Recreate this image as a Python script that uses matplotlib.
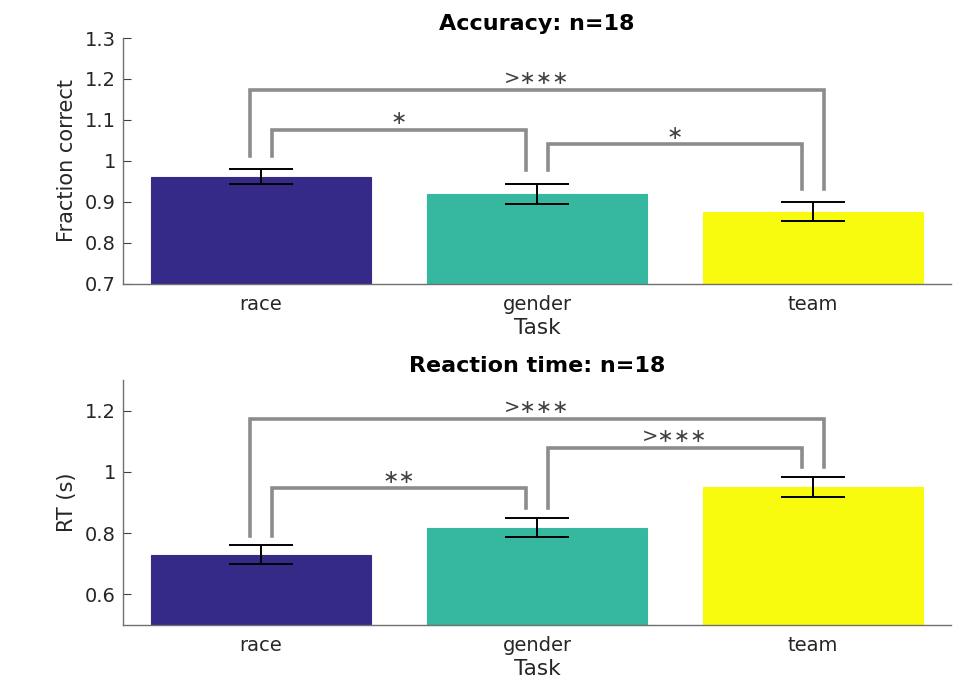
import numpy as np
import matplotlib
matplotlib.use("Agg")
import matplotlib.pyplot as plt

# task conditions and per-task means / SEM (n=18)
tasks = ["race", "gender", "team"]
colors = ["#352A87", "#35B7A0", "#F9FB0E"]

acc_mean = [0.962, 0.920, 0.876]
acc_sem = [0.018, 0.025, 0.023]

rt_mean = [0.730, 0.818, 0.950]
rt_sem = [0.030, 0.032, 0.033]

# significance brackets: (i, j) pairs, bracket height, label
acc_pairs = [(0, 2), (0, 1), (1, 2)]
acc_heights = [1.173, 1.076, 1.041]
acc_labels = [">∗∗∗", "∗", "∗"]

rt_pairs = [(0, 2), (0, 1), (1, 2)]
rt_heights = [1.173, 0.946, 1.078]
rt_labels = [">∗∗∗", "∗∗", ">∗∗∗"]

GRAY = "#8C8C8C"
TXT = "#262626"
plt.rcParams["font.family"] = "DejaVu Sans"


def bar_panel(ax, means, sems, pairs, heights, labels, ylim, yticks, ylabel, title):
    x = np.arange(1, len(tasks) + 1)
    ax.bar(x, means, width=0.8, color=colors, edgecolor=colors, linewidth=0.8, zorder=2)
    ax.errorbar(x, means, yerr=sems, fmt="none", ecolor="black", elinewidth=1.4,
                capsize=23, capthick=1.4, zorder=3)

    top = np.array(means) + np.array(sems) + 0.032
    for (i, j), h, lab in zip(pairs, heights, labels):
        # outer brackets sit outside the inner ones
        d = -0.04 if j - i > 1 else 0.04
        xi, xj = x[i] + d, x[j] - d
        ax.plot([xi, xi, xj, xj], [top[i], h, h, top[j]], color=GRAY, lw=2.6,
                solid_joinstyle="miter", clip_on=False, zorder=4)
        ax.annotate(lab, xy=((x[i] + x[j]) / 2, h), xytext=(0, 8),
                    textcoords="offset points", ha="center", va="center",
                    fontsize=14, color="#404040")

    ax.set_xlim(0.5, 3.5)
    ax.set_ylim(*ylim)
    ax.set_yticks(yticks)
    ax.set_yticklabels([f"{t:g}" for t in yticks])
    ax.set_xticks(x)
    ax.set_xticklabels(tasks)
    ax.tick_params(direction="in", length=6, width=0.8, colors="#404040",
                   labelcolor=TXT, labelsize=14, pad=5)
    ax.tick_params(axis="x", pad=8)
    for s in ("top", "right"):
        ax.spines[s].set_visible(False)
    for s in ("left", "bottom"):
        ax.spines[s].set_color("#707070")
        ax.spines[s].set_linewidth(1.0)
    ax.set_xlabel("Task", fontsize=15.5, color=TXT, labelpad=3)
    ax.set_ylabel(ylabel, fontsize=15, color=TXT, labelpad=6)
    ax.set_title(title, fontsize=16, fontweight="bold", pad=5.5)


fig = plt.figure(figsize=(9.73, 6.75), dpi=100)
ax1 = fig.add_axes([0.1264, 0.5793, 0.851, 0.3644])
ax2 = fig.add_axes([0.1264, 0.0741, 0.851, 0.3630])

bar_panel(ax1, acc_mean, acc_sem, acc_pairs, acc_heights, acc_labels,
          (0.7, 1.3), [0.7, 0.8, 0.9, 1.0, 1.1, 1.2, 1.3],
          "Fraction correct", "Accuracy: n=18")
bar_panel(ax2, rt_mean, rt_sem, rt_pairs, rt_heights, rt_labels,
          (0.5, 1.3), [0.6, 0.8, 1.0, 1.2],
          "RT (s)", "Reaction time: n=18")

fig.savefig("out.png", dpi=100)
